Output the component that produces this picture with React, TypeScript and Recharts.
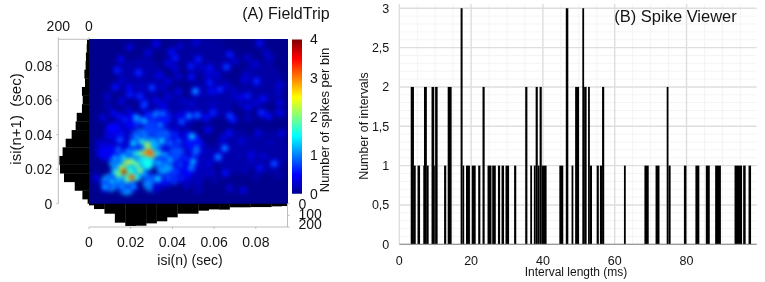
import React from "react";
import {
  BarChart, Bar, XAxis, YAxis, CartesianGrid, ScatterChart, Scatter,
} from "recharts";

// ---------- Panel A: marginal histograms (spikes per 5 ms bin, centres in ms)
const isiBinCentres = [0,5,10,15,20,25,30,35,40,45,50,55,60,65,70,75,80,85,90,95];
const leftHistCounts = [9,43,93,163,189,193,172,152,113,87,80,46,41,46,26,30,22,20,15,13];
const bottomHistCounts = [14,46,86,163,191,189,169,151,117,86,86,60,49,51,31,31,29,29,23,20];

// ---------- Panel A: density surface: wide glow, haze and local blobs [isi(n) ms, isi(n+1) ms, spikes per bin]
const glowPatches = [[40,50,.12],[60,62,.12],[25,72,.12],[70,30,.12],[82,70,.1],[55,86,.08],[85,30,.1],[20,30,.22],[50,25,.2],[35,35,.22]];
const hazePatches = [[16,15,1.5],[22,18,1.6],[27,24,1.55],[20,27,1.4],[30,33,1.2],[14,24,1.2],[36,22,1.1],[24,38,1],[36,38,.85],[10,12,1.1],[30,12,1],[42,28,.8],[45,18,.5],[20,48,.5],[35,50,.6],[12,42,.5],[50,35,.55],[18,10,1.1],[40,16,.7],[30,44,.75],[8,30,.45]];
const heatBlobs = [
  [19.5,90.5,.6],[32.3,92.4,.7],[28.3,87.2,.6],[39.5,87.8,.8],[41.4,84.3,.9],[15.2,83.4,.7],[43.5,91.1,.5],[13.6,77.2,.9],[23.8,75.7,1],[33.9,74.3,.7],[37.9,81.4,.6],[41.1,78.6,.6],[15.5,71.4,.5],[12.6,67.4,.8],[30.2,67,1.1],[19.5,67,.7],[25.1,67.9,.5],[37.9,70.8,.6],[42.7,73.7,.5],[35.5,67,.5],[8.8,62.1,.5],[19.5,63.1,.9],[24.3,62.1,1],[26.7,57.7,1.1],[15.5,59.3,.6],[32.3,59.3,.7],[37.9,62.1,.6],[42.7,65,.6],[45.1,59.3,.5],[6.7,49.6,.6],[14.7,50.2,.8],[22.7,49.6,1.6],[25.9,48.2,1.5],[31.5,51.1,1.3],[35.5,51.9,1.3],[42.7,50.6,.7],[18.7,54.4,.5],[45.9,52.5,.6],[9.1,56.4,.4],
  [51.5,93.6,.6],[81.9,93,.8],[67.5,86.3,.9],[52.3,83.4,.9],[85.1,87.2,.5],[76,84.3,.5],[86.7,84.3,.5],[70,82.4,.5],[48.8,79.5,.9],[65.9,79.1,1.1],[57.9,78.5,.8],[79.5,80.5,.6],[53.9,78.5,.5],[61.1,74.7,.6],[49.1,73.3,.8],[57.1,74.7,.6],[57.9,69.9,.9],[80.3,70.8,1],[74.7,71.8,.6],[75.9,74.3,.5],[91.5,68.5,.6],[51,65,1.5],[62.7,66,1],[58.7,65,.8],[65.9,67.9,.5],[69.1,65,.5],[90.7,64,.5],[76,62.1,.9],[72.3,61.6,.7],[83.5,60.6,.8],[91.5,58.3,.6],[68.3,61.2,.4],[49.1,57.7,.6],[59.5,57.3,.5],[76.3,55.8,.7],[80.3,58.3,.6],[73.1,57.3,.4],[48,50.6,1.4],[52,51.1,1.3],[59.5,52.5,1],[56.3,49.6,.8],[67.5,50.6,1.1],[69.1,48.6,.9],[82.7,52.5,1],[85.9,50.6,.8],[91.5,52.5,.7],[76.3,49.6,.4],
  [49.4,38.8,1.7],[57.1,42.7,.7],[67.1,40.7,.8],[64.3,37.8,.6],[81.1,40.7,.6],[92.3,40.7,.6],[73.1,35.9,.6],[86.7,34.9,.4],[51.5,32,1.3],[65.1,32,1.4],[50.7,29.1,1.2],[61.9,26.8,1.4],[77.9,28.2,.7],[83.5,27.2,.6],[71.5,28.2,.4],[49.9,24.3,1.6],[49,20.5,1.4],[57.1,23.4,.6],[77.9,24.3,.5],[88.8,23,1.2],[81.9,20.5,.8],[54.9,30.1,.5],[65.4,17.6,.8],[74.7,19.5,.4],[58.7,17.6,.5],[52.3,12.7,.5],[67.5,8.9,.5],[73.9,7.5,.6],[52.3,7.9,.4],[80.3,15.6,.3],[90.7,16.6,.3],[60.3,13.7,.3],
  [16.8,18.3,4],[20.5,15.2,3.5],[18.1,23.7,2.8],[20.5,24.3,2.5],[29,30.1,3.4],[26.9,29.1,3.1],[30.1,28.2,3.2],[28,34,2.7],[22.9,22.4,2.4],[24.5,19.1,2.5],[15.7,20.5,2.7],[14.1,16.6,2.3],[18.1,13.7,2.2],
  [12.5,18.5,2],[10.9,12.7,1.7],[7.7,9.5,1.6],[15.7,9.8,1.5],[21.3,9.8,1.5],[26.9,16.6,1.5],[33.3,14.3,1.7],[38.1,14.7,1.2],[33.3,23.4,1.7],[38.9,25.3,1.6],[36.5,28.2,1.5],[33.3,29.1,1.9],[34.9,36.3,1.8],[25.3,35.9,2],[21.3,34.9,1.8],[18.9,30.1,1.5],[14.9,36.9,1.2],[14.1,31.1,1.3],[12.5,26.2,1.6],[24.5,29.1,2.2],[22.1,29.1,1.9],[22.9,38.8,1.5],[26.9,47.5,1.5],[34.1,45.5,1.4],[32.5,52.3,1.3],[38.9,34.9,1.3],[42.9,35.9,1.2],[44.5,47.5,1.2],[41.3,39.8,1],[46.9,39.8,.8],[51.7,51.3,1],[51.7,30.1,1.2],[49.3,20.5,1.1],[46.1,26.2,1],[43.7,22.4,1.1],[32.5,14.3,1.6],[15.7,40.7,.8],[9.3,38.8,.7],[5.3,34.9,.6],[3.7,14.7,.6],[11.7,52.3,.7],[17.3,48.4,.9],[22.9,46.5,1.1],[28.5,51.3,1],[36.5,11.8,.8],[44.5,14.7,.9],[26.1,56.2,1],[35.7,57.1,.7],[32.5,8.9,.6],[46.9,10.8,.5],
];

// ---------- Panel B: interval histogram, one entry per drawn run
const runStartMs = [3.2,4.1,5.1,6.7,6.9,7.7,9,9.75,10,12.5,13.5,17.1,17.65,18.6,20.2,22,23.2,24.6,25.9,27.5,28.5,29.6,32,35.1,36.5,37.5,38,38.6,39.1,39.7,44.6,46.4,48,49,51,51.5,52.6,53.1,55,55.9,56.5,62.6,68.3,71.4,74.5,75,79.3,82.5,85.4,88,93.4,95.8,97.3];
const runEndMs   = [4.1,4.6,5.8,6.9,7.7,8.2,9.75,10,10.7,13.1,14.6,17.65,18.1,19.7,21.3,22.6,23.8,25.7,26.9,28.1,29.2,30.6,32.6,35.7,37,38,38.6,39.1,39.7,41.05,45.7,47.1,48.5,50.1,51.5,52.2,53.1,53.7,55.6,56.5,57.1,63.1,69.5,72.5,75,75.6,80,83.6,86.5,89.6,95.5,96.5,98];
const runCounts  = [2,1,1,1,2,1,2,1,2,1,2,3,1,1,1,1,2,1,1,1,1,1,1,2,1,1,2,1,2,1,1,3,1,2,3,2,2,1,1,1,2,1,1,1,2,1,1,1,1,1,1,1,1];
const intervalTicks = [0,20,40,60,80];
const countTicks = [0,.5,1,1.5,2,2.5,3];
const minorCountLines = [.1,.2,.3,.4,.6,.7,.8,.9,1.1,1.2,1.3,1.4,1.6,1.7,1.8,1.9,2.1,2.2,2.3,2.4,2.6,2.7,2.8,2.9];
const minorIntervalLines = [5,10,15,25,30,35,45,50,55,65,70,75,85,90,95];

const isiTicks = [0,20,40,60,80];
const colorbarTicks = [0,1,2,3,4];
const colorbarData = [{ name: "scale", value: 4 }];

const font = '"Liberation Sans", Arial, sans-serif';
const ink = "#141414";
const axisGrey = "#bdbdbd";

const jetStops: [number, number[]][] = [
  [0, [0,0,143]], [.125, [0,0,255]], [.375, [0,255,255]], [.625, [255,255,0]], [.875, [255,0,0]], [1, [128,0,0]],
];
function jet(t: number) {
  const v = Math.max(0, Math.min(1, t));
  for (let i = 1; i < jetStops.length; i++) {
    const [a, ca] = jetStops[i-1];
    const [b, cb] = jetStops[i];
    if (v <= b) {
      const f = (v-a)/(b-a);
      return `rgb(${ca.map((c,k)=>Math.round(c+(cb[k]-c)*f)).join(",")})`;
    }
  }
  return "rgb(128,0,0)";
}
const toPts = (rows: number[][]) => rows.map(([x,y,z]) => ({ x, y, z })).sort((a,b)=>a.z-b.z);
// every blob is painted as nested contours, low values first, so that peaks run through the colour scale
const contourLayers = [{ f: .4, r: 5 }, { f: .7, r: 3.5 }, { f: 1.05, r: 2.3 }];
const calibrated = (z: number) => Math.pow(z, 1.25) / Math.pow(4, .25);
const blobContours = heatBlobs
  .flatMap(([x,y,z]) => contourLayers.map(({ f, r }) => ({ x, y, z: calibrated(z)*f, r })))
  .sort((a,b)=>a.z-b.z);

const leftHist = isiBinCentres.map((c,i)=>({ c, n: leftHistCounts[i] }));
const bottomHist = isiBinCentres.map((c,i)=>({ c, n: bottomHistCounts[i] }));
const runs = runStartMs.map((s,i)=>({ mid:(s+runEndMs[i])/2, span: runEndMs[i]-s, n: runCounts[i] }));

const secLabel = (v: number) => (v === 0 ? "0" : (v/1000).toFixed(2));
const PLOT_B_W = 357.4;
const DOMAIN_B = 99.55;
const BIN_PX_X = 5 * 198.5 / 95.2;
const BIN_PX_Y = 5 * 164.4 / 95.3;

const blob = (r: number) => (p: any) => <circle cx={p.cx} cy={p.cy} r={r} fill={jet(p.payload.z/4)} />;
const contour = (p: any) => <circle cx={p.cx} cy={p.cy} r={p.payload.r} fill={jet(p.payload.z/4)} />;

const RunBar = (p: any) => {
  const w = p.payload.span * PLOT_B_W / DOMAIN_B;
  return <rect x={p.x + p.width/2 - w/2} y={p.y} width={w} height={p.height} fill="#000" />;
};
// the histogram value axes are reversed, so the library hands over negative extents
const SideBin = (p: any) => (
  <rect x={Math.min(p.x, p.x + p.width)} y={p.y + p.height/2 - BIN_PX_Y/2} width={Math.abs(p.width)} height={BIN_PX_Y + .3} fill="#000" />
);
const BottomBin = (p: any) => (
  <rect x={p.x + p.width/2 - BIN_PX_X/2} y={Math.min(p.y, p.y + p.height)} width={BIN_PX_X + .3} height={Math.abs(p.height)} fill="#000" />
);

const Caption = ({ x, y, size, rotate, children }: any) => (
  <div style={{
    position: "absolute", left: x, top: y, fontSize: size, color: ink, whiteSpace: "pre", lineHeight: 1,
    transform: `translate(-50%,-50%)${rotate ? ` rotate(${rotate}deg)` : ""}`,
  }}>{children}</div>
);
const abs = (left: number, top: number): React.CSSProperties => ({ position: "absolute", left, top });

const RightTick = (p: any) => {
  const v = p.payload.value;
  return <text x={p.x + 7} y={p.y - v/200*3 + 5} fontSize={14} fill={ink}>{v}</text>;
};

export default function App() {
  return (
    <div style={{ position: "fixed", left: 0, top: 0, width: 765, height: 282, background: "#fff", fontFamily: font, overflow: "hidden", filter: "blur(0.3px)" }}>
      {/* Density surface */}
      <div style={{ ...abs(89,39.3), width: 198.5, height: 164.4, background: "rgb(0,0,143)", overflow: "hidden" }}>
        <div style={{ filter: "blur(1.9px)" }}>
          <ScatterChart width={198.5} height={164.4} margin={{ top: 0, right: 0, bottom: 0, left: 0 }}>
            <XAxis type="number" dataKey="x" domain={[0,95.2]} hide />
            <YAxis type="number" dataKey="y" domain={[0,95.3]} hide />
            <Scatter data={toPts(glowPatches)} shape={blob(22)} isAnimationActive={false} />
            <Scatter data={toPts(hazePatches)} shape={blob(9)} isAnimationActive={false} />
            <Scatter data={blobContours} shape={contour} isAnimationActive={false} />
          </ScatterChart>
        </div>
      </div>

      {/* Left marginal histogram */}
      <div style={abs(0,0)}>
        <BarChart width={100} height={220} layout="vertical" data={leftHist} margin={{ top: 9.3, right: 11, bottom: 16.3, left: 8 }}>
          <XAxis type="number" orientation="top" reversed domain={[0,200]} ticks={[0,200]} height={30}
            stroke={axisGrey} tickSize={2} tick={{ fontSize: 14, fill: ink }} tickMargin={6} interval={0} />
          <YAxis type="number" dataKey="c" reversed domain={[0,95.3]} allowDataOverflow ticks={isiTicks} width={50.3}
            stroke={axisGrey} tickSize={2} tick={{ fontSize: 14, fill: ink }} tickMargin={4} tickFormatter={secLabel} interval={0} />
          <Bar dataKey="n" fill="#000" barSize={2} shape={SideBin} isAnimationActive={false} />
        </BarChart>
      </div>

      {/* Bottom marginal histogram */}
      <div style={abs(60,195)}>
        <BarChart width={270} height={60} data={bottomHist} margin={{ top: 8.7, right: 0, bottom: 0, left: 29 }}>
          <XAxis type="number" dataKey="c" domain={[0,95.2]} allowDataOverflow ticks={isiTicks} height={28}
            stroke={axisGrey} tickSize={2} tick={{ fontSize: 14, fill: ink }} tickMargin={8} tickFormatter={secLabel} interval={0} />
          <YAxis type="number" orientation="right" reversed domain={[0,200]} ticks={[0,100,200]} width={42.5}
            stroke={axisGrey} tickSize={2} tick={<RightTick />} interval={0} />
          <Bar dataKey="n" fill="#000" barSize={2} shape={BottomBin} isAnimationActive={false} />
        </BarChart>
      </div>

      {/* Colour bar */}
      <div style={abs(285,30)}>
        <BarChart width={40} height={175} data={colorbarData} barCategoryGap={0} margin={{ top: 9.5, right: 0, bottom: 11.2, left: 7 }}>
          <defs>
            <linearGradient id="jetRamp" x1="0" y1="1" x2="0" y2="0">
              {jetStops.map(([o]) => <stop key={o} offset={o} stopColor={jet(o)} />)}
            </linearGradient>
          </defs>
          <XAxis dataKey="name" hide />
          <YAxis orientation="right" domain={[0,4]} ticks={colorbarTicks} width={23} axisLine={false} tickLine={false}
            tick={{ fontSize: 14, fill: ink }} tickMargin={2} interval={0} />
          <Bar dataKey="value" fill="url(#jetRamp)" isAnimationActive={false} />
        </BarChart>
      </div>

      {/* Panel B */}
      <div style={abs(340,0)}>
        <BarChart width={425} height={282} data={runs} margin={{ top: 4, right: 8.3, bottom: 0, left: 0 }}>
          <CartesianGrid stroke="#f4f4f4" strokeWidth={1} horizontalValues={minorCountLines} verticalValues={minorIntervalLines} syncWithTicks={false} />
          <CartesianGrid stroke="#dedede" strokeWidth={1.4} horizontalValues={countTicks} verticalValues={intervalTicks} syncWithTicks={false} />
          <XAxis type="number" dataKey="mid" domain={[0,DOMAIN_B]} ticks={intervalTicks} height={37.7} stroke="#8a8a8a" tickLine={false} tickSize={0}
            tick={{ fontSize: 12.5, fill: ink }} tickMargin={12} interval={0} />
          <YAxis type="number" domain={[0,3.054]} ticks={countTicks} width={59.3} axisLine={false} tickLine={false} tickSize={0} allowDataOverflow
            tick={{ fontSize: 12.5, fill: ink }} tickMargin={10} tickFormatter={(v: number)=>String(v).replace(".",",")} interval={0} />
          <Bar dataKey="n" barSize={2} shape={RunBar} isAnimationActive={false} />
        </BarChart>
      </div>

      <Caption x={286} y={14} size={16}>(A) FieldTrip</Caption>
      <Caption x={675.5} y={16} size={16.5}>(B) Spike Viewer</Caption>
      <Caption x={190} y={260} size={14}>isi(n) (sec)</Caption>
      <Caption x={14.5} y={119} size={15} rotate={-90}>{"isi(n+1)\u00A0\u00A0(sec)"}</Caption>
      <Caption x={324} y={119.5} size={13} rotate={-90}>Number of spikes per bin</Caption>
      <Caption x={364} y={126} size={12.4} rotate={-90}>Number of intervals</Caption>
      <Caption x={576} y={272} size={12}>Interval length (ms)</Caption>
    </div>
  );
}
